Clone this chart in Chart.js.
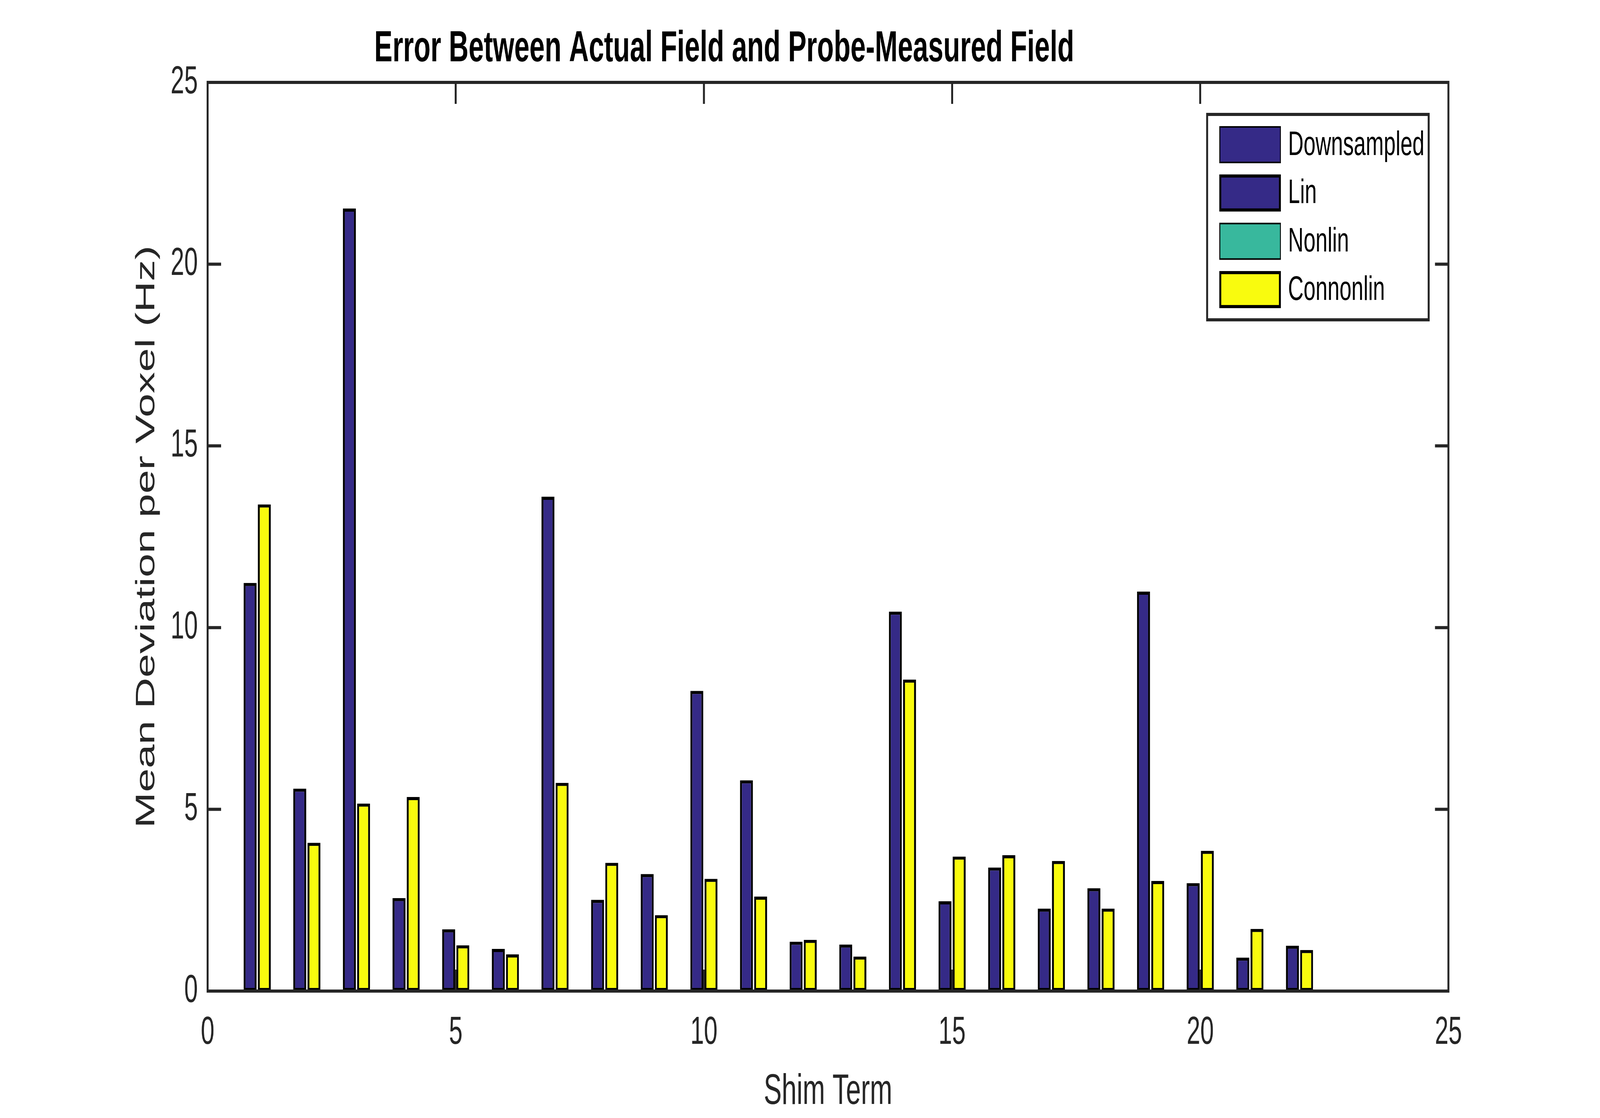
<!DOCTYPE html>
<html>
<head>
<meta charset="utf-8">
<title>Error Between Actual Field and Probe-Measured Field</title>
<script src="https://cdn.jsdelivr.net/npm/chart.js@4.4.0/dist/chart.umd.min.js"></script>
<style>
    html, body { margin: 0; padding: 0; background: #fff; overflow: hidden; }
    canvas { display: block; }
</style>
</head>
<body>
<canvas id="error-chart" width="6544" height="2863"></canvas>
<script>
var shimTerms = [1, 2, 3, 4, 5, 6, 7, 8, 9, 10, 11, 12, 13, 14, 15, 16, 17, 18, 19, 20, 21, 22];

// Downsampled and Nonlin have no visible bars in the figure, only legend entries
var downsampled = [];
var lin = [11.23, 5.57, 21.53, 2.56, 1.70, 1.16, 13.60, 2.51, 3.22, 8.26, 5.80,
           1.36, 1.28, 10.44, 2.47, 3.40, 2.27, 2.83, 10.99, 2.97, 0.92, 1.25];
var nonlin = [];
var connonlin = [13.39, 4.08, 5.16, 5.34, 1.26, 1.01, 5.73, 3.53, 2.09, 3.09, 2.60,
                 1.41, 0.95, 8.57, 3.70, 3.74, 3.58, 2.27, 3.03, 3.86, 1.71, 1.13];

var xTicks = [0, 5, 10, 15, 20, 25];
var yTicks = [0, 5, 10, 15, 20, 25];

var fontFamily = '"Liberation Sans", Arial, Helvetica, sans-serif';
var axisColor = '#262626';

var toPoints = function(values) {
    return values.map(function(v, i) { return {x: shimTerms[i], y: v}; });
};

// box round the axes, inward tick marks, legend inside the axes
var axesBox = {
    id: 'axesBox',
    afterDraw: function(chart) {
        var ctx = chart.ctx;
        var a = chart.chartArea;
        var xs = chart.scales.x;
        var ys = chart.scales.y;
        var tickLen = 55;

        ctx.save();
        ctx.strokeStyle = axisColor;
        ctx.lineWidth = 8;
        ctx.lineCap = 'butt';
        ctx.beginPath();
        for (var t of xTicks) {
            var px = xs.getPixelForValue(t);
            ctx.moveTo(px, a.bottom);
            ctx.lineTo(px, a.bottom - tickLen);
            ctx.moveTo(px, a.top);
            ctx.lineTo(px, a.top + tickLen);
        }
        for (var t of yTicks) {
            var py = ys.getPixelForValue(t);
            ctx.moveTo(a.left, py);
            ctx.lineTo(a.left + tickLen, py);
            ctx.moveTo(a.right, py);
            ctx.lineTo(a.right - tickLen, py);
        }
        ctx.stroke();
        ctx.lineJoin = 'miter';
        ctx.strokeRect(a.left, a.top, a.right - a.left, a.bottom - a.top);

        // legend
        var lRight = a.right - 81;
        var lTop = a.top + 82;
        var lLeft = lRight - 906;
        var lBottom = lTop + 526;
        ctx.fillStyle = '#fff';
        ctx.fillRect(lLeft, lTop, lRight - lLeft, lBottom - lTop);
        ctx.strokeRect(lLeft, lTop, lRight - lLeft, lBottom - lTop);

        var sets = chart.data.datasets;
        ctx.font = '88px ' + fontFamily;
        ctx.textBaseline = 'middle';
        ctx.textAlign = 'left';
        for (var i = 0; i < sets.length; i++) {
            var ds = sets[i];
            var bx = lLeft + 50;
            var by = lTop + 30 + i * 123.7;
            var bw = 252;
            var bh = 95;
            var w = ds.borderWidth;
            ctx.fillStyle = '#000';
            ctx.fillRect(bx, by, bw, bh);
            ctx.fillStyle = ds.backgroundColor;
            ctx.fillRect(bx + w, by + w, bw - 2 * w, bh - 2 * w);
            ctx.fillStyle = '#000';
            ctx.fillText(ds.label, bx + bw + 29, by + bh / 2 + 2);
        }
        ctx.restore();
    }
};

var canvas = document.getElementById('error-chart');
var chart = new Chart(canvas.getContext('2d'), {
    type: 'bar',
    data: {
        datasets: [{
            label: 'Downsampled',
            data: toPoints(downsampled),
            backgroundColor: '#352A87',
            borderColor: '#000',
            borderWidth: 4,
            stack: 'a'
        }, {
            label: 'Lin',
            data: toPoints(lin),
            backgroundColor: '#352A87',
            borderColor: '#000',
            borderWidth: 8,
            stack: 'a'
        }, {
            label: 'Nonlin',
            data: toPoints(nonlin),
            backgroundColor: '#38B89D',
            borderColor: '#000',
            borderWidth: 4,
            stack: 'b'
        }, {
            label: 'Connonlin',
            data: toPoints(connonlin),
            backgroundColor: '#F9FB0E',
            borderColor: '#000',
            borderWidth: 8,
            stack: 'b'
        }]
    },
    options: {
        responsive: false,
        devicePixelRatio: 1,
        animation: false,
        categoryPercentage: 0.571,
        barPercentage: 0.914,
        borderSkipped: false,
        layout: { padding: { left: 0, right: 620, top: 0, bottom: 0 } },
        plugins: {
            legend: { display: false },
            tooltip: { enabled: false },
            title: {
                display: true,
                text: 'Error Between Actual Field and Probe-Measured Field',
                color: '#000',
                font: { family: fontFamily, size: 112, weight: 'bold', lineHeight: 1.2 },
                padding: { top: 59, bottom: 17.6 }
            }
        },
        scales: {
            x: {
                type: 'linear',
                min: 0,
                max: 25,
                offset: false,
                grid: { display: false, drawTicks: false },
                border: { display: false },
                ticks: {
                    stepSize: 5,
                    padding: 47,
                    color: axisColor,
                    font: { family: fontFamily, size: 100, lineHeight: 1.2 }
                },
                title: {
                    display: true,
                    text: 'Shim Term',
                    color: axisColor,
                    font: { family: fontFamily, size: 110, lineHeight: 1.2 },
                    padding: { top: 0, bottom: 0 }
                },
                afterFit: function(scale) { scale.height = 325; }
            },
            y: {
                min: 0,
                max: 25,
                stacked: false,
                grid: { display: false, drawTicks: false },
                border: { display: false },
                ticks: {
                    stepSize: 5,
                    padding: 40,
                    color: axisColor,
                    font: { family: fontFamily, size: 100, lineHeight: 1.2 }
                },
                title: {
                    display: true,
                    text: 'Mean Deviation per Voxel (Hz)',
                    color: axisColor,
                    font: { family: fontFamily, size: 110, lineHeight: 1.2 },
                    padding: { top: 535, bottom: 0 }
                },
                afterFit: function(scale) { scale.width = 849; }
            }
        }
    },
    plugins: [axesBox]
});

// the 6544 x 2863 figure is shown over the whole window, whatever its size
canvas.style.width = window.innerWidth + 'px';
canvas.style.height = window.innerHeight + 'px';
</script>
</body>
</html>
